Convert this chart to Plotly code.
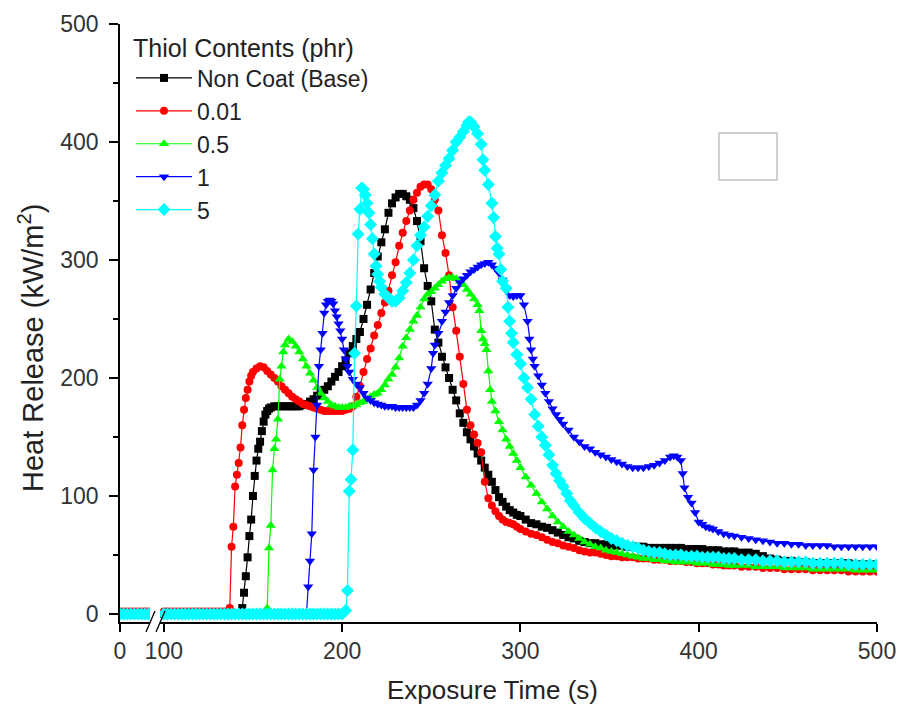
import plotly.graph_objects as go

# ---------------- data ----------------
LEFT_T = [0, 2, 4, 6, 8, 10, 12, 14, 16]
LEFT_BLACK = [0, 0, 0, 0, 0, 0, 0, 0, 0]
LEFT_RED = [2, 2, 2, 2, 2, 2, 2, 2, 2]
LEFT_GREEN = [0, 0, 0, 0, 0, 0, 0, 0, 0]
LEFT_BLUE = [0, 0, 0, 0, 0, 0, 0, 0, 0]
LEFT_CYAN = [0, 0, 0, 0, 0, 0, 0, 0, 0]

BLACK_T = [100,102,104,106,108,110,112,114,116,118,
           120,122,124,126,128,130,132,134,136,138,
           140,142,143,144,145,146,147,148,149,150,
           151,152,153,154,155,156,157,158,159,160,
           162,164,166,168,170,172,174,176,178,180,
           182,184,186,188,190,192,194,196,198,200,
           202,204,206,208,210,212,214,216,218,220,
           222,224,226,228,230,232,234,236,238,240,
           242,244,246,248,250,252,254,256,258,260,
           262,264,266,268,270,272,274,276,278,280,
           282,284,286,288,290,292,294,296,298,
           300,303,306,309,312,315,318,321,324,327,
           330,333,336,339,342,345,348,351,354,357,
           360,363,366,369,372,375,378,381,384,387,
           390,393,396,399,402,405,408,411,414,417,
           420,424,428,432,436,440,444,448,452,456,
           460,464,468,472,476,480,484,488,492,496,
           500]
BLACK_V = [0,0,0,0,0,0,0,0,0,0,
           0,0,0,0,0,0,0,0,0,0,
           0,0,0,5,18,32,48,66,80,100,
           117,130,140,146,155,163,169,172,174,175,
           176,176,176,176,176,176,176,176,177,178,
           180,182,185,187,190,193,197,201,205,210,
           215,221,227,233,239,250,262,275,289,303,
           315,326,340,348,353,356,356,354,351,344,
           333,316,293,278,265,241,230,218,209,200,
           190,181,170,162,154,148,142,136,130,124,
           118,112,105,99,95,91,88,86,84,
           83,80,77,76,74,73,71,69,67,65,
           64,62,61,60,60,59,59,58,58,58,
           57,57,57,57,56,56,56,56,56,56,
           56,55,55,55,55,54,54,54,53,53,
           53,52,52,51,49,47,46,45,45,44,
           44,43,43,43,43,43,43,42,42,42,
           42]

RED_T = [100,102,104,106,108,110,112,114,116,118,
         120,122,124,126,128,130,132,134,136,137,
         138,139,140,141,142,143,144,145,146,147,
         148,149,150,152,154,156,158,160,162,164,
         166,168,170,172,174,176,178,180,182,184,
         186,188,190,192,194,196,198,200,202,204,
         206,208,210,212,214,216,218,220,222,224,
         226,228,230,232,234,236,238,240,242,244,
         246,248,250,252,254,256,258,260,262,264,
         266,268,270,272,274,276,278,280,282,284,
         286,288,290,292,294,296,298,
         300,303,306,309,312,315,318,321,324,327,
         330,333,336,339,342,345,348,351,354,357,
         360,363,366,369,372,375,378,381,384,387,
         390,393,396,399,402,405,408,411,414,417,
         420,424,428,432,436,440,444,448,452,456,
         460,464,468,472,476,480,484,488,492,496,
         500]
RED_V = [2,2,2,2,2,2,2,2,2,2,
         2,2,2,2,2,2,2,2,2,5,
         57,74,108,118,128,141,160,173,183,190,
         197,202,205,208,210,209,206,203,200,197,
         193,190,187,184,182,180,178,177,176,175,
         174,173,172,172,172,172,172,172,173,174,
         176,184,193,205,216,225,236,245,255,264,
         274,287,298,312,323,333,342,351,357,362,
         364,364,360,351,342,321,306,287,260,240,
         218,195,173,160,152,145,137,112,98,92,
         87,83,80,78,77,76,74,
         72,70,68,67,65,63,61,60,58,57,
         56,54,53,52,52,51,50,49,49,48,
         48,48,47,47,47,46,46,46,45,45,
         45,44,44,43,43,43,42,42,41,41,
         41,40,40,40,39,39,39,38,38,38,
         38,37,37,37,37,37,36,36,36,36,
         36]

GREEN_T = [100,102,104,106,108,110,112,114,116,118,
           120,122,124,126,128,130,132,134,136,138,
           140,142,144,146,148,150,152,154,156,157,
           158,159,160,161,162,163,164,165,166,167,
           168,170,172,174,176,178,180,182,184,186,
           188,190,192,194,196,198,200,202,204,206,
           208,210,212,214,216,218,220,222,224,226,
           228,230,232,234,236,238,240,242,244,246,
           248,250,252,254,256,258,260,262,264,266,
           268,270,272,274,276,277,278,279,280,281,
           282,283,284,286,288,290,292,294,296,298,
           300,303,306,309,312,315,318,321,324,327,
           330,333,336,339,342,345,348,351,354,357,
           360,363,366,369,372,375,378,381,384,387,
           390,393,396,399,402,405,408,411,414,417,
           420,424,428,432,436,440,444,448,452,456,
           460,464,468,472,476,480,484,488,492,496,
           500]
GREEN_V = [0,0,0,0,0,0,0,0,0,0,
           0,0,0,0,0,0,0,0,0,0,
           0,0,0,0,0,0,0,0,0,0,
           5,56,75,122,140,148,165,199,210,222,
           228,233,231,227,222,216,210,204,198,192,
           187,183,180,177,176,175,175,175,176,176,
           177,179,180,182,184,186,187,190,194,199,
           203,209,217,227,234,241,248,253,260,267,
           271,273,276,279,282,284,285,285,284,282,
           279,275,271,267,262,257,240,233,229,224,
           206,190,180,172,163,156,148,142,136,130,
           124,116,109,102,95,89,83,78,74,70,
           67,64,61,59,57,56,54,53,52,51,
           50,49,48,47,47,46,46,45,45,44,
           44,44,44,43,43,43,42,42,42,41,
           41,41,41,40,40,40,40,39,39,39,
           39,38,38,38,38,38,38,37,37,37,
           37]

BLUE_T = [100,102,104,106,108,110,112,114,116,118,
          120,122,124,126,128,130,132,134,136,138,
          140,142,144,146,148,150,152,154,156,158,
          160,162,164,166,168,170,172,174,176,178,
          179,180,181,182,183,184,185,186,187,188,
          189,190,191,192,193,194,195,196,197,198,
          199,200,201,202,203,204,206,208,210,212,
          214,216,218,220,222,224,226,228,230,232,
          234,236,238,240,242,244,246,248,250,251,
          252,254,256,258,260,262,264,266,268,270,
          272,274,276,278,280,282,284,286,288,290,
          292,294,296,298,300,302,304,305,306,307,
          308,310,312,314,316,318,320,322,324,327,
          330,333,336,339,342,345,348,351,354,357,
          360,363,366,369,372,375,378,381,384,386,
          388,390,391,392,394,396,398,400,402,404,
          406,408,411,414,417,420,424,428,432,436,
          440,444,448,452,456,460,464,468,472,476,
          480,484,488,492,496,500]
BLUE_V = [0,0,0,0,0,0,0,0,0,0,
          0,0,0,0,0,0,0,0,0,0,
          0,0,0,0,0,0,0,0,0,0,
          0,0,0,0,0,0,0,0,0,0,
          0,0,23,45,68,122,150,177,210,224,
          238,255,262,265,266,265,263,257,252,246,
          240,233,224,216,210,205,199,195,192,187,
          183,181,179,178,177,176,176,176,175,175,
          175,175,175,175,177,181,187,195,208,221,
          228,238,248,256,264,270,276,281,284,287,
          290,292,294,296,297,298,296,293,289,283,
          276,270,269,270,270,262,248,233,224,216,
          210,202,194,187,180,174,169,165,161,156,
          150,146,142,140,137,135,133,131,129,127,
          125,124,124,124,125,126,128,130,133,134,
          133,130,119,107,99,94,86,78,76,74,
          73,72,70,68,67,66,65,64,63,62,
          61,60,60,59,59,58,58,58,58,57,
          57,57,57,57,57,57]

CYAN_T = [100,102,104,106,108,110,112,114,116,118,
          120,122,124,126,128,130,132,134,136,138,
          140,142,144,146,148,150,152,154,156,158,
          160,162,164,166,168,170,172,174,176,178,
          180,182,184,186,188,190,192,194,196,198,
          200,202,203,204,205,206,207,208,209,210,
          211,212,213,214,215,216,217,218,219,220,
          221,222,224,226,228,230,232,234,236,238,
          240,242,244,246,248,250,252,254,256,258,
          260,262,264,266,268,270,271,272,274,276,
          278,279,280,282,284,285,286,287,288,289,
          290,292,293,294,295,296,298,300,302,304,
          306,308,310,312,314,316,318,320,322,324,
          326,328,330,333,336,339,342,345,348,351,
          354,357,360,363,366,369,372,375,378,381,
          384,387,390,393,396,399,402,405,408,411,
          414,417,420,424,428,432,436,440,444,448,
          452,456,460,464,468,472,476,480,484,488,
          492,496,500]
CYAN_V = [0,0,0,0,0,0,0,0,0,0,
          0,0,0,0,0,0,0,0,0,0,
          0,0,0,0,0,0,0,0,0,0,
          0,0,0,0,0,0,0,0,0,0,
          0,0,0,0,0,0,0,0,0,0,
          0,3,20,104,114,139,221,261,322,343,
          361,360,355,348,340,330,318,305,295,288,
          282,277,271,268,265,265,268,274,281,289,
          300,312,321,328,337,346,355,367,374,380,
          386,393,400,404,409,414,417,417,413,407,
          398,385,376,364,348,336,320,310,305,292,
          282,276,260,248,238,230,220,212,200,192,
          182,169,159,150,143,135,126,119,113,108,
          102,96,92,86,81,77,73,70,67,64,
          62,60,58,57,56,54,53,52,52,51,
          50,50,50,49,49,49,48,48,48,48,
          47,47,47,46,46,46,45,45,45,44,
          44,44,44,43,43,43,43,43,42,42,
          42,42,42]

NAMES = ["Non Coat (Base)", "0.01", "0.5", "1", "5"]
X_TICKS_LEFT = [0]
X_TICKS_RIGHT = [100, 200, 300, 400, 500]
Y_TICKS = [0, 100, 200, 300, 400, 500]
Y_MINOR = [50, 150, 250, 350, 450]

series = [
    (NAMES[0], BLACK_T, BLACK_V, LEFT_BLACK, "#000000", "square", 8),
    (NAMES[1], RED_T, RED_V, LEFT_RED, "#ff0000", "circle", 8),
    (NAMES[2], GREEN_T, GREEN_V, LEFT_GREEN, "#00ff00", "triangle-up", 9),
    (NAMES[3], BLUE_T, BLUE_V, LEFT_BLUE, "#0000ff", "triangle-down", 9),
    (NAMES[4], CYAN_T, CYAN_V, LEFT_CYAN, "#00ffff", "diamond", 10),
]
for s in series:
    assert len(s[1]) == len(s[2]), (s[0], len(s[1]), len(s[2]))

FONT = "Arial, 'Liberation Sans', sans-serif"

fig = go.Figure()
for name, t, v, lv, color, sym, size in series:
    fig.add_trace(go.Scatter(
        x=t, y=v, xaxis="x2", yaxis="y", mode="lines+markers", name=name,
        line=dict(color=color, width=1.2),
        marker=dict(symbol=sym, size=size, color=color, line=dict(width=0)),
    ))
for name, t, v, lv, color, sym, size in series:
    fig.add_trace(go.Scatter(
        x=LEFT_T, y=lv, xaxis="x", yaxis="y", mode="lines+markers", name=name,
        showlegend=False,
        line=dict(color=color, width=1.2),
        marker=dict(symbol=sym, size=size, color=color, line=dict(width=0)),
    ))

W, H = 900, 716
L, R, T, B = 120, 23, 24, 94
PL, PT, PW, PH = L, T, W - L - R, H - T - B   # plot area in pixels


def px(xp):
    return (xp - PL) / PW


def py(yp):
    return 1 - (yp - PT) / PH


axis_common = dict(
    showline=True, linecolor="black", linewidth=1.5, showgrid=False,
    zeroline=False, ticks="outside", ticklen=8, tickwidth=1.5,
    tickcolor="black", tickfont=dict(family=FONT, size=23, color="#333333"),
)

fig.update_layout(
    width=W, height=H,
    margin=dict(l=L, r=R, t=T, b=B, autoexpand=False),
    paper_bgcolor="white", plot_bgcolor="rgba(0,0,0,0)",
    font=dict(family=FONT, color="#222222"),
    xaxis=dict(domain=[0, px(150)], range=[0, 30 / 1.783],
               tickvals=X_TICKS_LEFT, anchor="y", **axis_common),
    xaxis2=dict(domain=[px(160), 1], range=[500 - 717 / 1.783, 500],
                tickvals=X_TICKS_RIGHT, anchor="y", **axis_common),
    yaxis=dict(range=[-6.8, 500], tickvals=Y_TICKS, anchor="x",
               showline=True, linecolor="black", linewidth=1.5, showgrid=False,
               zeroline=False, ticks="outside", ticklen=9, tickwidth=1.5,
               tickcolor="black", ticklabelstandoff=6,
               tickfont=dict(family=FONT, size=23, color="#333333"),
               minor=dict(tickvals=Y_MINOR, ticks="outside", ticklen=5,
                          tickwidth=1.5, tickcolor="black")),
    legend=dict(x=px(131), y=py(24), xanchor="left", yanchor="top",
                bgcolor="rgba(0,0,0,0)", borderwidth=0,
                font=dict(family=FONT, size=23, color="#222222"),
                title=dict(text="Thiol Contents (phr)",
                           font=dict(family=FONT, size=25, color="#222222")),
                itemwidth=56, tracegroupgap=0),
    showlegend=True,
    annotations=[
        dict(text="Exposure Time (s)", xref="paper", yref="paper",
             x=px(492), y=py(690), xanchor="center", yanchor="middle",
             showarrow=False,
             font=dict(family=FONT, size=26, color="#222222")),
        dict(text="Heat Release (kW/m<sup>2</sup>)", xref="paper", yref="paper",
             x=px(31), y=py(348), xanchor="center", yanchor="middle",
             textangle=-90, showarrow=False,
             font=dict(family=FONT, size=29, color="#222222")),
    ],
    shapes=[
        dict(type="rect", xref="paper", yref="paper", x0=px(719), x1=px(777),
             y0=py(180), y1=py(133), line=dict(color="#c4c4c4", width=1.5)),
        dict(type="line", xref="paper", yref="paper", x0=px(146), y0=py(632),
             x1=px(155), y1=py(611), line=dict(color="black", width=1.3)),
        dict(type="line", xref="paper", yref="paper", x0=px(156), y0=py(632),
             x1=px(165), y1=py(611), line=dict(color="black", width=1.3)),
    ],
)

# remove the default 8 px page margin so the 900x716 figure fills the window
fig.write_html(
    "out.html",
    config={"displayModeBar": False},
    post_script="document.body.style.margin='0';"
                "document.body.style.overflow='hidden';",
)
